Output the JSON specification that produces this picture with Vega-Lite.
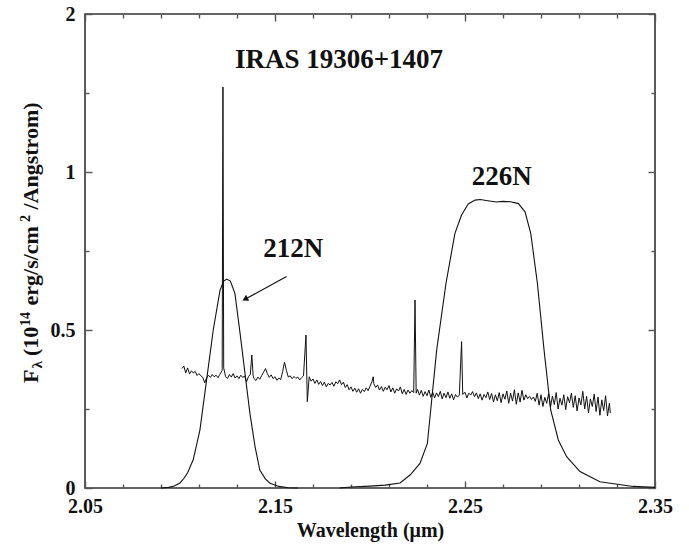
{
  "$schema": "https://vega.github.io/schema/vega-lite/v6.json",
  "width": 570,
  "height": 474,
  "autosize": {"type": "none"},
  "padding": {"left": 85, "top": 14, "right": 34, "bottom": 57},
  "background": "white",
  "config": {
    "font": "Liberation Serif",
    "view": {"stroke": "#333333", "strokeWidth": 1.6},
    "axis": {"grid": false, "tickColor": "#555555", "tickWidth": 1.4, "domain": false}
  },
  "datasets": {
    "spec": [
      {"w":2.101,"f":0.378},{"w":2.102,"f":0.386},{"w":2.103,"f":0.364},{"w":2.104,"f":0.380},{"w":2.105,"f":0.361},{"w":2.106,"f":0.371},{"w":2.107,"f":0.364},{"w":2.108,"f":0.369},{"w":2.109,"f":0.356},{"w":2.110,"f":0.362},
      {"w":2.111,"f":0.355},{"w":2.112,"f":0.350},{"w":2.113,"f":0.333},{"w":2.114,"f":0.348},{"w":2.115,"f":0.357},{"w":2.116,"f":0.350},{"w":2.117,"f":0.359},{"w":2.118,"f":0.352},{"w":2.119,"f":0.357},{"w":2.120,"f":0.349},
      {"w":2.121,"f":0.360},{"w":2.1222,"f":0.372},{"w":2.1226,"f":1.269},{"w":2.123,"f":0.380},{"w":2.124,"f":0.352},{"w":2.125,"f":0.347},{"w":2.126,"f":0.359},{"w":2.127,"f":0.351},{"w":2.128,"f":0.362},{"w":2.129,"f":0.348},
      {"w":2.130,"f":0.355},{"w":2.131,"f":0.346},{"w":2.132,"f":0.357},{"w":2.133,"f":0.350},{"w":2.134,"f":0.354},{"w":2.135,"f":0.336},{"w":2.136,"f":0.352},{"w":2.137,"f":0.360},{"w":2.1378,"f":0.421},{"w":2.1385,"f":0.355},
      {"w":2.139,"f":0.346},{"w":2.140,"f":0.340},{"w":2.141,"f":0.351},{"w":2.142,"f":0.344},{"w":2.143,"f":0.356},{"w":2.144,"f":0.367},{"w":2.145,"f":0.378},{"w":2.146,"f":0.362},{"w":2.147,"f":0.350},{"w":2.148,"f":0.358},
      {"w":2.149,"f":0.346},{"w":2.150,"f":0.352},{"w":2.151,"f":0.341},{"w":2.152,"f":0.348},{"w":2.153,"f":0.343},{"w":2.154,"f":0.368},{"w":2.155,"f":0.398},{"w":2.156,"f":0.372},{"w":2.157,"f":0.351},{"w":2.158,"f":0.355},
      {"w":2.159,"f":0.346},{"w":2.160,"f":0.353},{"w":2.161,"f":0.347},{"w":2.162,"f":0.351},{"w":2.163,"f":0.342},{"w":2.164,"f":0.349},{"w":2.165,"f":0.355},{"w":2.1663,"f":0.484},{"w":2.167,"f":0.273},{"w":2.168,"f":0.352},
      {"w":2.169,"f":0.338},{"w":2.170,"f":0.345},{"w":2.171,"f":0.331},{"w":2.172,"f":0.342},{"w":2.173,"f":0.328},{"w":2.174,"f":0.337},{"w":2.175,"f":0.324},{"w":2.176,"f":0.335},{"w":2.177,"f":0.320},{"w":2.178,"f":0.331},
      {"w":2.179,"f":0.326},{"w":2.180,"f":0.334},{"w":2.181,"f":0.322},{"w":2.182,"f":0.336},{"w":2.183,"f":0.330},{"w":2.184,"f":0.342},{"w":2.185,"f":0.327},{"w":2.186,"f":0.335},{"w":2.187,"f":0.318},{"w":2.188,"f":0.327},
      {"w":2.189,"f":0.311},{"w":2.190,"f":0.320},{"w":2.191,"f":0.306},{"w":2.192,"f":0.316},{"w":2.193,"f":0.303},{"w":2.194,"f":0.314},{"w":2.195,"f":0.300},{"w":2.196,"f":0.312},{"w":2.197,"f":0.305},{"w":2.198,"f":0.317},
      {"w":2.199,"f":0.308},{"w":2.200,"f":0.322},{"w":2.201,"f":0.336},{"w":2.2017,"f":0.352},{"w":2.202,"f":0.330},{"w":2.203,"f":0.318},{"w":2.204,"f":0.326},{"w":2.205,"f":0.310},{"w":2.206,"f":0.321},{"w":2.207,"f":0.306},
      {"w":2.208,"f":0.319},{"w":2.209,"f":0.311},{"w":2.210,"f":0.324},{"w":2.211,"f":0.304},{"w":2.212,"f":0.317},{"w":2.213,"f":0.300},{"w":2.214,"f":0.314},{"w":2.215,"f":0.307},{"w":2.216,"f":0.320},{"w":2.217,"f":0.298},
      {"w":2.218,"f":0.312},{"w":2.219,"f":0.296},{"w":2.220,"f":0.310},{"w":2.221,"f":0.300},{"w":2.222,"f":0.308},{"w":2.223,"f":0.302},{"w":2.2237,"f":0.595},{"w":2.2243,"f":0.300},{"w":2.225,"f":0.312},{"w":2.226,"f":0.294},
      {"w":2.227,"f":0.309},{"w":2.228,"f":0.290},{"w":2.229,"f":0.305},{"w":2.230,"f":0.292},{"w":2.231,"f":0.310},{"w":2.232,"f":0.287},{"w":2.233,"f":0.303},{"w":2.234,"f":0.285},{"w":2.235,"f":0.301},{"w":2.236,"f":0.289},
      {"w":2.237,"f":0.306},{"w":2.238,"f":0.282},{"w":2.239,"f":0.300},{"w":2.240,"f":0.286},{"w":2.241,"f":0.304},{"w":2.242,"f":0.284},{"w":2.243,"f":0.298},{"w":2.244,"f":0.279},{"w":2.245,"f":0.296},{"w":2.246,"f":0.288},
      {"w":2.247,"f":0.293},{"w":2.2482,"f":0.463},{"w":2.2488,"f":0.296},{"w":2.250,"f":0.303},{"w":2.251,"f":0.285},{"w":2.252,"f":0.300},{"w":2.253,"f":0.294},{"w":2.254,"f":0.305},{"w":2.255,"f":0.289},{"w":2.256,"f":0.301},
      {"w":2.257,"f":0.283},{"w":2.258,"f":0.298},{"w":2.259,"f":0.278},{"w":2.260,"f":0.296},{"w":2.261,"f":0.286},{"w":2.262,"f":0.304},{"w":2.263,"f":0.280},{"w":2.264,"f":0.299},{"w":2.265,"f":0.272},{"w":2.266,"f":0.295},
      {"w":2.267,"f":0.276},{"w":2.268,"f":0.302},{"w":2.269,"f":0.270},{"w":2.270,"f":0.298},{"w":2.271,"f":0.281},{"w":2.272,"f":0.307},{"w":2.273,"f":0.268},{"w":2.274,"f":0.300},{"w":2.275,"f":0.275},{"w":2.276,"f":0.311},
      {"w":2.277,"f":0.265},{"w":2.278,"f":0.301},{"w":2.279,"f":0.272},{"w":2.280,"f":0.309},{"w":2.281,"f":0.278},{"w":2.282,"f":0.295},{"w":2.283,"f":0.283},{"w":2.284,"f":0.290},{"w":2.285,"f":0.280},{"w":2.286,"f":0.288},
      {"w":2.287,"f":0.274},{"w":2.288,"f":0.300},{"w":2.289,"f":0.262},{"w":2.290,"f":0.295},{"w":2.291,"f":0.258},{"w":2.292,"f":0.287},{"w":2.293,"f":0.268},{"w":2.294,"f":0.299},{"w":2.295,"f":0.256},{"w":2.296,"f":0.291},
      {"w":2.297,"f":0.264},{"w":2.298,"f":0.302},{"w":2.299,"f":0.250},{"w":2.300,"f":0.284},{"w":2.301,"f":0.262},{"w":2.302,"f":0.295},{"w":2.303,"f":0.248},{"w":2.304,"f":0.289},{"w":2.305,"f":0.270},{"w":2.306,"f":0.300},
      {"w":2.307,"f":0.255},{"w":2.308,"f":0.292},{"w":2.309,"f":0.244},{"w":2.310,"f":0.285},{"w":2.311,"f":0.263},{"w":2.312,"f":0.306},{"w":2.313,"f":0.250},{"w":2.314,"f":0.290},{"w":2.315,"f":0.238},{"w":2.316,"f":0.282},
      {"w":2.317,"f":0.258},{"w":2.318,"f":0.297},{"w":2.319,"f":0.242},{"w":2.320,"f":0.288},{"w":2.321,"f":0.230},{"w":2.322,"f":0.279},{"w":2.323,"f":0.245},{"w":2.324,"f":0.292},{"w":2.325,"f":0.228},{"w":2.326,"f":0.268},
      {"w":2.3265,"f":0.237}
    ],
    "f212": [
      {"w":2.090,"f":0.000},{"w":2.094,"f":0.002},{"w":2.097,"f":0.006},{"w":2.100,"f":0.016},{"w":2.102,"f":0.030},{"w":2.104,"f":0.048},{"w":2.107,"f":0.090},{"w":2.1105,"f":0.184},{"w":2.114,"f":0.342},{"w":2.1175,"f":0.500},{"w":2.1211,"f":0.627},{"w":2.123,"f":0.655},{"w":2.1246,"f":0.661},{"w":2.1265,"f":0.655},{"w":2.1289,"f":0.616},{"w":2.1316,"f":0.490},{"w":2.1342,"f":0.363},{"w":2.1368,"f":0.236},{"w":2.1395,"f":0.131},{"w":2.142,"f":0.057},{"w":2.145,"f":0.028},{"w":2.1474,"f":0.015},{"w":2.152,"f":0.005},{"w":2.157,"f":0.001},{"w":2.162,"f":0.000}
    ],
    "f226": [
      {"w":2.184,"f":0.000},{"w":2.190,"f":0.003},{"w":2.200,"f":0.006},{"w":2.208,"f":0.009},{"w":2.2158,"f":0.016},{"w":2.2211,"f":0.041},{"w":2.2263,"f":0.078},{"w":2.2302,"f":0.141},{"w":2.2351,"f":0.437},{"w":2.2400,"f":0.648},{"w":2.2447,"f":0.806},{"w":2.2482,"f":0.864},{"w":2.2517,"f":0.899},{"w":2.2553,"f":0.911},{"w":2.2580,"f":0.913},{"w":2.2620,"f":0.909},{"w":2.2665,"f":0.905},{"w":2.2700,"f":0.907},{"w":2.2740,"f":0.906},{"w":2.2781,"f":0.900},{"w":2.2816,"f":0.874},{"w":2.2846,"f":0.806},{"w":2.2881,"f":0.648},{"w":2.2916,"f":0.437},{"w":2.2951,"f":0.247},{"w":2.2991,"f":0.152},{"w":2.3035,"f":0.099},{"w":2.3105,"f":0.052},{"w":2.321,"f":0.020},{"w":2.3385,"f":0.005},{"w":2.350,"f":0.002}
    ],
    "one": [{"k": 1}]
  },
  "resolve": {"axis": {"x": "independent", "y": "independent"}},
  "layer": [
    {
      "data": {"name": "spec"},
      "mark": {"type": "line", "stroke": "#111111", "strokeWidth": 1},
      "encoding": {
        "x": {"field": "w", "type": "quantitative", "scale": {"domain": [2.05, 2.35], "nice": false, "zero": false},
              "axis": {"orient": "bottom", "values": [2.05, 2.15, 2.25, 2.35], "format": ".2f", "ticks": false, "labelPadding": 8, "labelFlush": false, "labelOverlap": false, "labelFont": "Liberation Serif", "labelFontWeight": "bold", "labelFontSize": 20, "labelColor": "#111111",
                       "title": "Wavelength (\u03bcm)", "titlePadding": 4, "titleFont": "Liberation Serif", "titleFontWeight": "bold", "titleFontSize": 20, "titleColor": "#111111"}},
        "y": {"field": "f", "type": "quantitative", "scale": {"domain": [0, 1.5], "nice": false, "zero": false},
              "axis": {"orient": "left", "values": [0, 0.5, 1, 1.5], "labelExpr": "datum.value == 1.5 ? '2' : datum.value == 1 ? '1' : datum.value == 0.5 ? '0.5' : '0'", "ticks": false, "labelPadding": 10, "labelFlush": false, "labelOverlap": false, "labelFont": "Liberation Serif", "labelFontWeight": "bold", "labelFontSize": 20, "labelColor": "#111111", "title": null}}
      }
    },
    {
      "data": {"name": "f212"},
      "mark": {"type": "line", "stroke": "#111111", "strokeWidth": 1.1},
      "encoding": {
        "x": {"field": "w", "type": "quantitative", "axis": {"orient": "bottom", "values": [2.05, 2.15, 2.25, 2.35], "labels": false, "tickSize": -7, "title": null}},
        "y": {"field": "f", "type": "quantitative", "axis": {"orient": "left", "values": [0, 0.5, 1, 1.5], "labels": false, "tickSize": -7, "title": null}}
      }
    },
    {
      "data": {"name": "f226"},
      "mark": {"type": "line", "stroke": "#111111", "strokeWidth": 1.1},
      "encoding": {
        "x": {"field": "w", "type": "quantitative", "axis": {"orient": "bottom", "values": [2.07, 2.09, 2.11, 2.13, 2.17, 2.19, 2.21, 2.23, 2.27, 2.29, 2.31, 2.33], "labels": false, "tickSize": -4, "title": null}},
        "y": {"field": "f", "type": "quantitative", "axis": {"orient": "left", "values": [0.25, 0.75, 1.25], "labels": false, "tickSize": -4, "title": null}}
      }
    },
    {
      "data": {"name": "one"},
      "mark": {"type": "text", "text": "IRAS 19306+1407", "font": "Liberation Serif", "fontWeight": "bold", "fontSize": 27, "align": "center", "baseline": "alphabetic", "color": "#111111"},
      "encoding": {
        "x": {"datum": 2.1837, "type": "quantitative", "axis": {"orient": "top", "values": [2.05, 2.15, 2.25, 2.35], "labels": false, "tickSize": -7, "title": null}},
        "y": {"datum": 1.329, "type": "quantitative", "axis": {"orient": "right", "values": [0, 0.5, 1, 1.5], "labels": false, "tickSize": -7, "title": null}}
      }
    },
    {
      "data": {"name": "one"},
      "mark": {"type": "text", "text": "212N", "font": "Liberation Serif", "fontWeight": "bold", "fontSize": 27, "align": "center", "baseline": "alphabetic", "color": "#111111"},
      "encoding": {
        "x": {"datum": 2.1596, "type": "quantitative", "axis": {"orient": "top", "values": [2.07, 2.09, 2.11, 2.13, 2.17, 2.19, 2.21, 2.23, 2.27, 2.29, 2.31, 2.33], "labels": false, "tickSize": -4, "title": null}},
        "y": {"datum": 0.732, "type": "quantitative", "axis": {"orient": "right", "values": [0.25, 0.75, 1.25], "labels": false, "tickSize": -4, "title": null}}
      }
    },
    {
      "data": {"name": "one"},
      "mark": {"type": "text", "text": "226N", "font": "Liberation Serif", "fontWeight": "bold", "fontSize": 27, "align": "center", "baseline": "alphabetic", "color": "#111111"},
      "encoding": {
        "x": {"datum": 2.2693, "type": "quantitative", "axis": null},
        "y": {"datum": 0.959, "type": "quantitative", "axis": null}
      }
    },
    {
      "data": {"name": "one"},
      "mark": {"type": "rule", "stroke": "#111111", "strokeWidth": 1.2},
      "encoding": {
        "x": {"datum": 2.1561, "type": "quantitative", "axis": null},
        "y": {"datum": 0.669, "type": "quantitative", "axis": null},
        "x2": {"datum": 2.1347},
        "y2": {"datum": 0.599}
      }
    },
    {
      "data": {"name": "one"},
      "mark": {"type": "point", "shape": "triangle", "filled": true, "color": "#111111", "opacity": 1, "size": 45, "angle": 241.8},
      "encoding": {
        "x": {"datum": 2.1347, "type": "quantitative", "axis": null},
        "y": {"datum": 0.599, "type": "quantitative", "axis": null}
      }
    },
    {
      "data": {"name": "one"},
      "mark": {"type": "text", "text": "F", "font": "Liberation Serif", "fontWeight": "bold", "fontSize": 22, "angle": 270, "align": "left", "baseline": "alphabetic", "color": "#111111"},
      "encoding": {"x": {"datum": 2.02526, "type": "quantitative", "axis": null}, "y": {"datum": 0.3323, "type": "quantitative", "axis": null}}
    },
    {
      "data": {"name": "one"},
      "mark": {"type": "text", "text": "\u03bb", "font": "Liberation Serif", "fontWeight": "bold", "fontSize": 15, "angle": 270, "align": "left", "baseline": "alphabetic", "color": "#111111"},
      "encoding": {"x": {"datum": 2.02737, "type": "quantitative", "axis": null}, "y": {"datum": 0.3782, "type": "quantitative", "axis": null}}
    },
    {
      "data": {"name": "one"},
      "mark": {"type": "text", "text": "(10", "font": "Liberation Serif", "fontWeight": "bold", "fontSize": 22, "angle": 270, "align": "left", "baseline": "alphabetic", "color": "#111111"},
      "encoding": {"x": {"datum": 2.02526, "type": "quantitative", "axis": null}, "y": {"datum": 0.4177, "type": "quantitative", "axis": null}}
    },
    {
      "data": {"name": "one"},
      "mark": {"type": "text", "text": "14", "font": "Liberation Serif", "fontWeight": "bold", "fontSize": 14, "angle": 270, "align": "left", "baseline": "alphabetic", "color": "#111111"},
      "encoding": {"x": {"datum": 2.02105, "type": "quantitative", "axis": null}, "y": {"datum": 0.5127, "type": "quantitative", "axis": null}}
    },
    {
      "data": {"name": "one"},
      "mark": {"type": "text", "text": "erg/s/cm", "font": "Liberation Serif", "fontWeight": "bold", "fontSize": 22, "angle": 270, "align": "left", "baseline": "alphabetic", "color": "#111111"},
      "encoding": {"x": {"datum": 2.02526, "type": "quantitative", "axis": null}, "y": {"datum": 0.5775, "type": "quantitative", "axis": null}}
    },
    {
      "data": {"name": "one"},
      "mark": {"type": "text", "text": "2", "font": "Liberation Serif", "fontWeight": "bold", "fontSize": 14, "angle": 270, "align": "left", "baseline": "alphabetic", "color": "#111111"},
      "encoding": {"x": {"datum": 2.02105, "type": "quantitative", "axis": null}, "y": {"datum": 0.8417, "type": "quantitative", "axis": null}}
    },
    {
      "data": {"name": "one"},
      "mark": {"type": "text", "text": "/Angstrom)", "font": "Liberation Serif", "fontWeight": "bold", "fontSize": 22, "angle": 270, "align": "left", "baseline": "alphabetic", "color": "#111111"},
      "encoding": {"x": {"datum": 2.02526, "type": "quantitative", "axis": null}, "y": {"datum": 0.8813, "type": "quantitative", "axis": null}}
    }
  ]
}
